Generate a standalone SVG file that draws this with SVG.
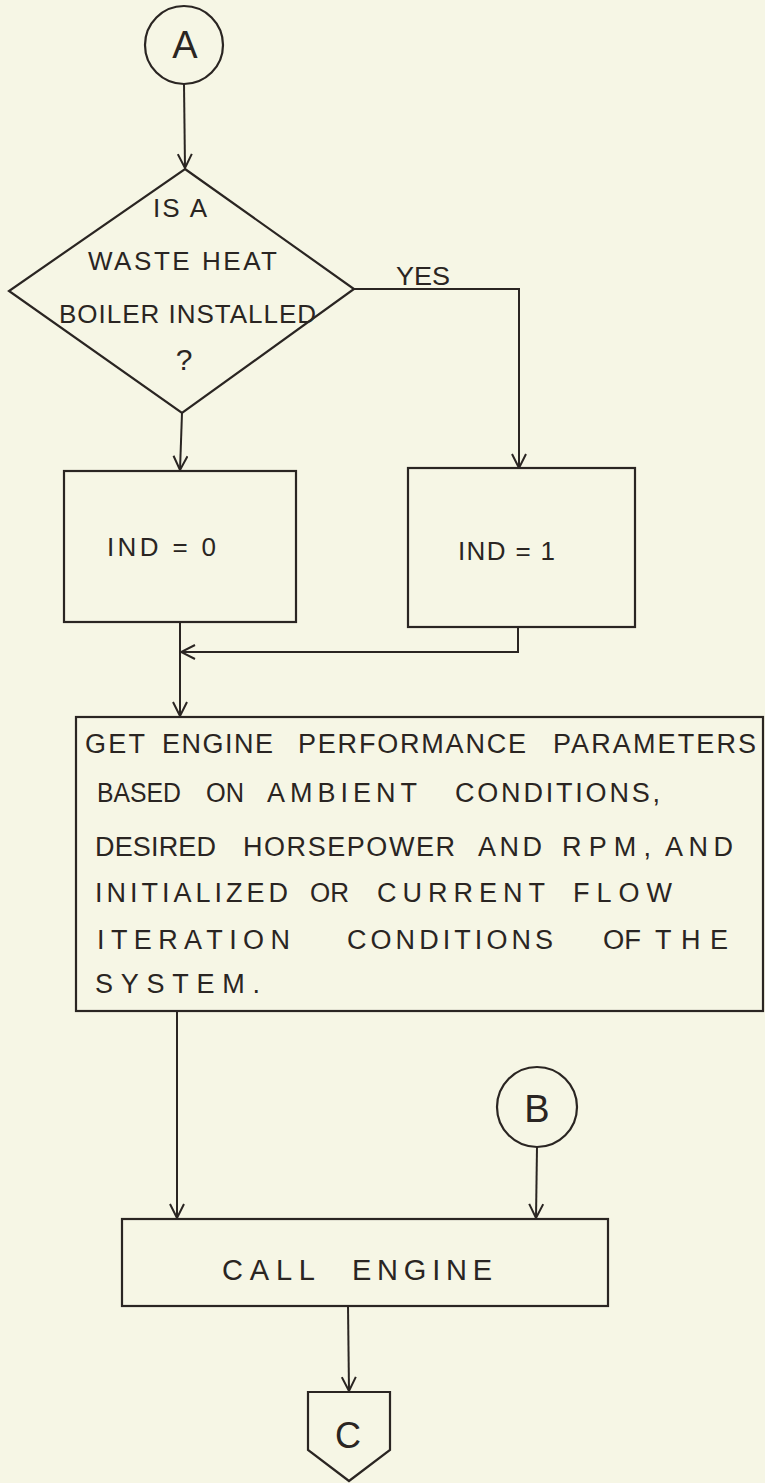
<svg xmlns="http://www.w3.org/2000/svg" width="765" height="1483" viewBox="0 0 765 1483">
<style>
.bg{fill:#f6f6e5}
.sh{fill:none;stroke:#2a2522;stroke-width:2.2;stroke-linejoin:miter}
.ln{fill:none;stroke:#2a2522;stroke-width:2}
.t{font-family:"Liberation Sans",Arial,sans-serif;fill:#2a2522;font-size:26px}
.tm{font-family:"Liberation Sans",Arial,sans-serif;fill:#2a2522;font-size:27px}
.big{font-family:"Liberation Sans",Arial,sans-serif;fill:#2a2522;font-size:38px;text-anchor:middle}
</style>
<defs>
<marker id="arr" viewBox="0 0 16 16" refX="15" refY="8" markerWidth="16" markerHeight="16" markerUnits="userSpaceOnUse" orient="auto">
<path d="M1,1 L15,8 L1,15" fill="none" stroke="#2a2522" stroke-width="2"/>
</marker>
</defs>
<rect class="bg" x="0" y="0" width="765" height="1483"/>

<g id="connectors">
<path class="ln" d="M184,84 L185,168" marker-end="url(#arr)"/>
<path class="ln" d="M354,289 L519,289 L519,468" marker-end="url(#arr)"/>
<path class="ln" d="M182,413 L180,470" marker-end="url(#arr)"/>
<path class="ln" d="M518,627 L518,652 L181,652" marker-end="url(#arr)"/>
<path class="ln" d="M180,622 L180,716" marker-end="url(#arr)"/>
<path class="ln" d="M177,1011 L177,1218" marker-end="url(#arr)"/>
<path class="ln" d="M537,1147 L536,1218" marker-end="url(#arr)"/>
<path class="ln" d="M348,1306 L349,1391" marker-end="url(#arr)"/>
<text class="t" x="396" y="285" textLength="54" lengthAdjust="spacingAndGlyphs">YES</text>
</g>

<g id="connector-A">
<circle class="sh" cx="184" cy="45" r="39"/>
<text class="big" x="185" y="58">A</text>
</g>

<g id="decision">
<polygon class="sh" points="185,169 354,289 182,413 9,291"/>
<text class="t" x="153" y="217" textLength="54" lengthAdjust="spacing">IS A</text>
<text class="t" x="88" y="270" textLength="189" lengthAdjust="spacing">WASTE HEAT</text>
<text class="t" x="59" y="323" textLength="257" lengthAdjust="spacing">BOILER INSTALLED</text>
<text class="t" x="184" y="370" style="font-size:30px;text-anchor:middle">?</text>
</g>

<g id="ind0">
<rect class="sh" x="64" y="471" width="232" height="151"/>
<text class="t" x="107" y="556" textLength="109" lengthAdjust="spacing">IND = 0</text>
</g>

<g id="ind1">
<rect class="sh" x="408" y="468" width="227" height="159"/>
<text class="t" x="458" y="560" textLength="97" lengthAdjust="spacing">IND = 1</text>
</g>

<g id="engine-params">
<rect class="sh" x="76" y="717" width="687" height="294"/>
<text class="tm" x="85" y="753" textLength="60" lengthAdjust="spacing">GET</text>
<text class="tm" x="162" y="753" textLength="111" lengthAdjust="spacing">ENGINE</text>
<text class="tm" x="298" y="753" textLength="228" lengthAdjust="spacing">PERFORMANCE</text>
<text class="tm" x="553" y="753" textLength="203" lengthAdjust="spacing">PARAMETERS</text>
<text class="tm" x="97" y="802" textLength="84" lengthAdjust="spacingAndGlyphs">BASED</text>
<text class="tm" x="206" y="802" textLength="38" lengthAdjust="spacingAndGlyphs">ON</text>
<text class="tm" x="267" y="802" textLength="150" lengthAdjust="spacing">AMBIENT</text>
<text class="tm" x="455" y="802" textLength="205" lengthAdjust="spacing">CONDITIONS,</text>
<text class="tm" x="95" y="856" textLength="121" lengthAdjust="spacing">DESIRED</text>
<text class="tm" x="243" y="856" textLength="212" lengthAdjust="spacing">HORSEPOWER</text>
<text class="tm" x="478" y="856" textLength="64" lengthAdjust="spacing">AND</text>
<text class="tm" x="562" y="856" textLength="89" lengthAdjust="spacing">RPM,</text>
<text class="tm" x="665" y="856" textLength="68" lengthAdjust="spacing">AND</text>
<text class="tm" x="95" y="902" textLength="193" lengthAdjust="spacing">INITIALIZED</text>
<text class="tm" x="310" y="902" textLength="39" lengthAdjust="spacingAndGlyphs">OR</text>
<text class="tm" x="377" y="902" textLength="168" lengthAdjust="spacing">CURRENT</text>
<text class="tm" x="573" y="902" textLength="99" lengthAdjust="spacing">FLOW</text>
<text class="tm" x="97" y="949" textLength="193" lengthAdjust="spacing">ITERATION</text>
<text class="tm" x="347" y="949" textLength="206" lengthAdjust="spacing">CONDITIONS</text>
<text class="tm" x="603" y="949" textLength="38" lengthAdjust="spacingAndGlyphs">OF</text>
<text class="tm" x="655" y="949" textLength="73" lengthAdjust="spacing">THE</text>
<text class="tm" x="95" y="993" textLength="165" lengthAdjust="spacing">SYSTEM.</text>
</g>

<g id="connector-B">
<circle class="sh" cx="537" cy="1107" r="40"/>
<text class="big" x="537" y="1122">B</text>
</g>

<g id="call-engine">
<rect class="sh" x="122" y="1219" width="486" height="87"/>
<text class="t" x="222" y="1280" style="font-size:29px" textLength="93" lengthAdjust="spacing">CALL</text>
<text class="t" x="352" y="1280" style="font-size:29px" textLength="140" lengthAdjust="spacing">ENGINE</text>
</g>

<g id="connector-C">
<polygon class="sh" points="308,1392 390,1392 390,1450 349,1481 308,1450"/>
<text class="big" x="348" y="1448" style="font-size:36px">C</text>
</g>
</svg>
